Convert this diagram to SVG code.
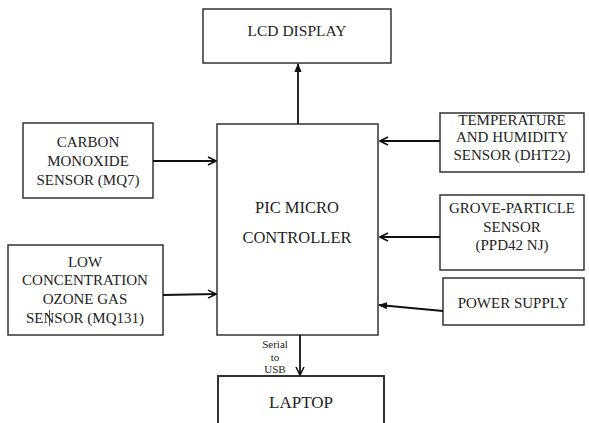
<svg xmlns="http://www.w3.org/2000/svg" width="589" height="423" viewBox="0 0 589 423">
<defs>
<marker id="arr" viewBox="0 0 10 10" refX="9" refY="5" markerWidth="10" markerHeight="10" markerUnits="userSpaceOnUse" orient="auto">
<path d="M1,1 L9,5 L1,9" fill="none" stroke="#111" stroke-width="1.6"/>
</marker>
<marker id="arrf" viewBox="0 0 10 10" refX="9" refY="5" markerWidth="9" markerHeight="9" markerUnits="userSpaceOnUse" orient="auto">
<path d="M0,1 L10,5 L0,9 z" fill="#111"/>
</marker>
</defs>
<style>
.box{fill:#fff;stroke:#333;stroke-width:1.5}
text{fill:#222;text-anchor:middle}
.t{font-size:15px}
.c{stroke:#111;stroke-width:1.8;fill:none}
</style>
<rect width="589" height="423" fill="#fff"/>
<g font-family="'Liberation Serif', 'DejaVu Serif', serif">
<g id="lcd">
<rect class="box" x="203" y="9" width="188" height="54"/>
<text x="297" y="36" font-size="15.5">LCD DISPLAY</text>
</g>
<g id="pic">
<rect class="box" x="217" y="124" width="161" height="211"/>
<text x="297" y="213" font-size="16.5">PIC MICRO</text>
<text x="297" y="243" font-size="16.5">CONTROLLER</text>
</g>
<g id="carbon">
<rect class="box" x="23" y="123" width="130" height="75"/>
<text class="t" x="88" y="147">CARBON</text>
<text class="t" x="88" y="166">MONOXIDE</text>
<text class="t" x="88" y="185">SENSOR (MQ7)</text>
</g>
<g id="ozone">
<rect class="box" x="8" y="245" width="155" height="90"/>
<text class="t" x="85" y="267">LOW</text>
<text class="t" x="85" y="285">CONCENTRATION</text>
<text class="t" x="85" y="304">OZONE GAS</text>
<text class="t" x="85" y="323">SENSOR (MQ131)</text>
<line x1="49.5" y1="310" x2="49.5" y2="326" stroke="#222" stroke-width="0.8"/>
</g>
<g id="temp">
<rect class="box" x="440" y="113" width="144" height="59"/>
<text class="t" x="512" y="125">TEMPERATURE</text>
<text class="t" x="512" y="142">AND HUMIDITY</text>
<text class="t" x="512" y="160">SENSOR (DHT22)</text>
</g>
<g id="grove">
<rect class="box" x="440" y="195" width="144" height="75"/>
<text class="t" x="512" y="213">GROVE-PARTICLE</text>
<text class="t" x="512" y="232">SENSOR</text>
<text class="t" x="512" y="250">(PPD42 NJ)</text>
</g>
<g id="power">
<rect class="box" x="443" y="278" width="141" height="47"/>
<text class="t" x="513" y="308">POWER SUPPLY</text>
</g>
<g id="laptop">
<rect class="box" x="218" y="376" width="166" height="52" style="stroke-width:2"/>
<text x="301" y="408" font-size="17">LAPTOP</text>
</g>
<g id="connectors">
<line class="c" x1="298" y1="124" x2="298" y2="64" marker-end="url(#arrf)"/>
<line class="c" x1="153" y1="161" x2="216" y2="161" marker-end="url(#arr)"/>
<line class="c" x1="163" y1="295" x2="216" y2="294" marker-end="url(#arr)"/>
<line class="c" x1="440" y1="141" x2="380" y2="141" marker-end="url(#arr)"/>
<line class="c" x1="440" y1="237" x2="380" y2="237" marker-end="url(#arr)"/>
<line class="c" x1="443" y1="311" x2="379" y2="305" marker-end="url(#arrf)"/>
<line class="c" x1="300" y1="335" x2="300" y2="375" marker-end="url(#arr)"/>
<text x="275" y="348" font-size="11">Serial</text>
<text x="275" y="361" font-size="11">to</text>
<text x="275" y="373" font-size="11">USB</text>
</g>
</g>
</svg>
